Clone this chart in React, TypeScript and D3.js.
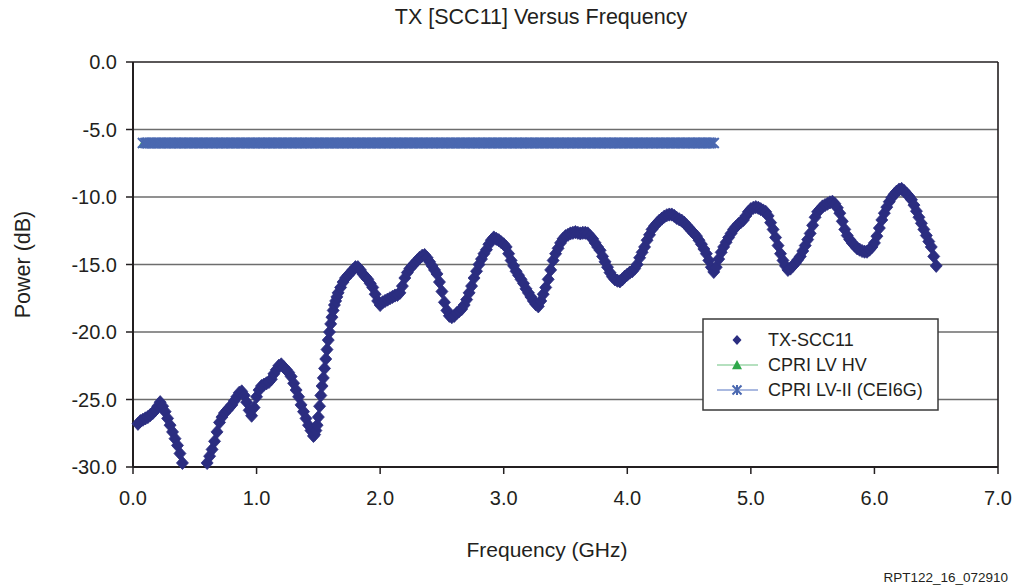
import React from "react";
import * as d3 from "d3";

const chartTitle = "TX [SCC11] Versus Frequency";
const xAxisTitle = "Frequency (GHz)";
const yAxisTitle = "Power (dB)";
const footnote = "RPT122_16_072910";
const xTickValues = [0, 1, 2, 3, 4, 5, 6, 7];
const yTickValues = [0, -5, -10, -15, -20, -25, -30];

// TX-SCC11 measured values (dB), sampled every 0.02 GHz starting at 0.04 GHz
const txStartGHz = 0.04;
const txStepGHz = 0.02;
const txScc11 = [
  -26.8, -26.6, -26.5, -26.4, -26.3, -26.15, -26.0, -25.8, -25.5, -25.2,
  -25.5, -25.9, -26.4, -26.9, -27.4, -27.9, -28.4, -29.0, -29.7, -30.3,
  -30.9, -31.4, -31.8, -32.0, -31.8, -31.3, -30.8, -30.3, -29.7, -29.2,
  -28.7, -28.1, -27.4, -26.7, -26.3, -26.0, -25.8, -25.6, -25.4, -25.1,
  -24.8, -24.5, -24.4, -24.7, -25.2, -25.8, -26.2, -25.6, -24.8, -24.3,
  -24.0, -23.9, -23.8, -23.7, -23.5, -23.1, -22.8, -22.5, -22.4, -22.6,
  -22.8, -23.0, -23.3, -23.8, -24.3, -24.8, -25.4, -25.9, -26.4, -26.9,
  -27.3, -27.7, -27.3, -26.3, -24.7, -23.4, -22.0, -20.6, -19.4, -18.4,
  -17.7, -17.1, -16.7, -16.3, -16.0, -15.8, -15.6, -15.4, -15.2, -15.2,
  -15.4, -15.7, -15.9, -16.1, -16.4, -16.7, -17.2, -17.7, -18.0, -17.8,
  -17.7, -17.6, -17.5, -17.4, -17.3, -17.25, -17.1, -16.6, -16.0, -15.6,
  -15.3, -15.1, -14.9, -14.7, -14.5, -14.35, -14.3, -14.5, -14.8, -15.1,
  -15.4, -15.7, -16.3, -17.0, -17.8, -18.4, -18.8, -18.9, -18.8, -18.6,
  -18.45, -18.3, -18.0, -17.6, -17.1, -16.6, -16.0, -15.5, -15.0, -14.6,
  -14.2, -13.9, -13.5, -13.2, -13.0, -13.1, -13.2, -13.35, -13.5, -13.7,
  -14.2, -14.7, -15.1, -15.5, -15.8, -16.1, -16.4, -16.8, -17.1, -17.4,
  -17.7, -17.95, -18.1, -17.7, -17.2, -16.7, -16.1, -15.4, -14.7, -14.2,
  -13.8, -13.4, -13.1, -12.9, -12.8, -12.7, -12.65, -12.6, -12.65, -12.7,
  -12.65, -12.65, -12.7, -12.9, -13.1, -13.4, -13.7, -13.95, -14.4, -14.8,
  -15.2, -15.6, -15.9, -16.1, -16.2, -16.25, -16.1, -15.9, -15.75, -15.6,
  -15.5, -15.3, -15.0, -14.5, -14.1, -13.7, -13.2, -12.8, -12.4, -12.15,
  -11.95, -11.75, -11.6, -11.45, -11.35, -11.3, -11.3, -11.4, -11.55, -11.65,
  -11.75, -11.9, -12.1, -12.3, -12.5, -12.7, -12.9, -13.2, -13.5, -13.85,
  -14.2, -14.7, -15.2, -15.55, -15.2, -14.6, -14.1, -13.7, -13.35, -13.0,
  -12.7, -12.4, -12.2, -12.0, -11.85, -11.7, -11.4, -11.1, -10.9, -10.8,
  -10.75, -10.8, -10.9, -11.0, -11.1, -11.4, -11.9, -12.4, -13.0, -13.6,
  -14.2, -14.7, -15.1, -15.4, -15.3, -15.1, -14.9, -14.65, -14.4, -14.0,
  -13.6, -13.15, -12.7, -12.1, -11.5, -11.1, -10.9, -10.7, -10.6, -10.5,
  -10.4, -10.35, -10.5, -10.8, -11.2, -11.8, -12.4, -12.85, -13.15, -13.4,
  -13.6, -13.8, -13.9, -14.0, -14.05, -14.05, -13.9, -13.7, -13.4, -12.9,
  -12.3, -11.7, -11.2, -10.75, -10.35, -10.05, -9.8, -9.6, -9.45, -9.4,
  -9.55, -9.75, -9.95, -10.2, -10.6, -11.05, -11.5, -11.95, -12.4, -12.85,
  -13.3, -13.7, -14.4, -15.1,
];

// Extra TX-SCC11 readings on the steep rise (odd hundredths of a GHz)
const txSteepFreq = [1.47, 1.49, 1.51, 1.53, 1.55, 1.57, 1.59, 1.61, 1.63, 1.65];
const txSteepValue = [-27.6, -26.9, -25.5, -24.0, -22.7, -21.3, -20.0, -18.9, -18.0, -17.4];

// Limit lines (dB) and their frequency spans (GHz)
const limitNames = ["CPRI LV HV", "CPRI LV-II (CEI6G)"];
const limitFromGHz = [0.08, 0.08];
const limitToGHz = [3.0, 4.7];
const limitLevel = [-6, -6];

const FONT = "'Liberation Sans', Arial, Helvetica, sans-serif";
const NAVY = "#2b2d80";
const GREEN = "#2ea84a";
const BLUE = "#4a68b0";
const LIGHTBLUE = "#8ea2d6";
const INK = "#231f20";

export default function App() {
  const W = 1030;
  const H = 588;
  const plot = { left: 133, right: 998, top: 62, bottom: 467 };
  const x = d3.scaleLinear().domain([0, 7]).range([plot.left, plot.right]);
  const y = d3.scaleLinear().domain([-30, 0]).range([plot.bottom, plot.top]);

  const tx = txScc11.map((v, i) => ({ f: +(txStartGHz + i * txStepGHz).toFixed(2), v }));
  const txAll = tx
    .concat(txSteepFreq.map((f, i) => ({ f, v: txSteepValue[i] })))
    .sort((a, b) => a.f - b.f);
  const txVisible = txAll.filter((d) => d.v >= -30 && d.v <= 0);

  const diamond = (cx: number, cy: number, r: number) =>
    `M${cx},${cy - r - 0.6}L${cx + r},${cy}L${cx},${cy + r + 0.6}L${cx - r},${cy}Z`;
  const triangle = (cx: number, cy: number, r: number) =>
    `M${cx},${cy - r}L${cx + r},${cy + r * 0.85}L${cx - r},${cy + r * 0.85}Z`;
  const star = (cx: number, cy: number, r: number) =>
    `M${cx - r},${cy - r}L${cx + r},${cy + r}M${cx - r},${cy + r}L${cx + r},${cy - r}M${cx},${cy - r * 1.1}L${cx},${cy + r * 1.1}`;

  const limitPoints = limitNames.map((_, k) =>
    tx
      .map((d) => d.f)
      .filter((f) => f >= limitFromGHz[k] - 1e-9 && f <= limitToGHz[k] + 1e-9)
      .map((f) => ({ f, v: limitLevel[k] }))
  );

  const lineGen = d3
    .line<{ f: number; v: number }>()
    .x((d) => x(d.f))
    .y((d) => y(d.v));

  const legend = { x: 703, y: 319, w: 235, h: 91 };
  const legendRows = [340, 365, 390];

  return (
    <div style={{ position: "absolute", left: 0, top: 0 }}>
      <svg width={W} height={H} style={{ display: "block", background: "#fff" }} fontFamily={FONT}>
        <text x={541} y={24} textAnchor="middle" fontSize={21.5} fill={INK}>
          {chartTitle}
        </text>

        {yTickValues
          .filter((t) => t !== 0 && t !== -30)
          .map((t) => (
            <line key={"g" + t} x1={plot.left} x2={plot.right} y1={y(t)} y2={y(t)} stroke="#6d6d6d" strokeWidth={1.6} />
          ))}

        <line x1={plot.left} x2={plot.right} y1={plot.top} y2={plot.top} stroke={INK} strokeWidth={1.6} />
        <line x1={plot.right} x2={plot.right} y1={plot.top} y2={plot.bottom} stroke={INK} strokeWidth={1.6} />
        <line x1={plot.left} x2={plot.right} y1={plot.bottom} y2={plot.bottom} stroke={INK} strokeWidth={2} />
        <line x1={plot.left} x2={plot.left} y1={plot.top} y2={plot.bottom} stroke={INK} strokeWidth={2} />

        {yTickValues.map((t) => (
          <g key={"yt" + t}>
            <line x1={plot.left - 7} x2={plot.left} y1={y(t)} y2={y(t)} stroke={INK} strokeWidth={1.5} />
            <text x={117} y={y(t)} dy="0.36em" textAnchor="end" fontSize={20} fill={INK}>
              {t.toFixed(1)}
            </text>
          </g>
        ))}

        {xTickValues.map((t) => (
          <g key={"xt" + t}>
            <line x1={x(t)} x2={x(t)} y1={plot.bottom} y2={plot.bottom + 7} stroke={INK} strokeWidth={1.5} />
            <text x={x(t)} y={505} textAnchor="middle" fontSize={20} fill={INK}>
              {t.toFixed(1)}
            </text>
          </g>
        ))}

        <text x={547} y={557} textAnchor="middle" fontSize={21} fill={INK}>
          {xAxisTitle}
        </text>
        <text transform={`translate(30,${(plot.top + plot.bottom) / 2}) rotate(-90)`} textAnchor="middle" fontSize={21.5} fill={INK}>
          {yAxisTitle}
        </text>

        <g fill={NAVY} stroke={NAVY} strokeWidth={0.8}>
          {txVisible.map((d, i) => (
            <path key={"tx" + i} d={diamond(x(d.f), y(d.v), 6)} />
          ))}
        </g>

        <path d={lineGen(limitPoints[0]) || ""} fill="none" stroke={GREEN} strokeWidth={1.5} />
        <g fill={GREEN}>
          {limitPoints[0].map((d, i) => (
            <path key={"lv" + i} d={triangle(x(d.f), y(d.v) + 0.8, 5)} />
          ))}
        </g>

        <path d={lineGen(limitPoints[1]) || ""} fill="none" stroke={LIGHTBLUE} strokeWidth={1.5} />
        <g stroke={BLUE} strokeWidth={2} fill="none">
          {limitPoints[1].map((d, i) => (
            <path key={"l2" + i} d={star(x(d.f), y(d.v), 5)} />
          ))}
        </g>

        <rect x={legend.x} y={legend.y} width={legend.w} height={legend.h} fill="#fff" stroke="#3a3a3a" strokeWidth={1.5} />
        <path d={diamond(737, legendRows[0], 4.5)} fill={NAVY} />
        <text x={768} y={legendRows[0]} dy="0.36em" fontSize={18} fill={INK}>TX-SCC11</text>

        <line x1={717} x2={758} y1={legendRows[1]} y2={legendRows[1]} stroke={GREEN} strokeWidth={1.2} opacity={0.7} />
        <path d={triangle(737, legendRows[1], 5)} fill={GREEN} />
        <text x={768} y={legendRows[1]} dy="0.36em" fontSize={18} fill={INK}>{limitNames[0]}</text>

        <line x1={717} x2={758} y1={legendRows[2]} y2={legendRows[2]} stroke={LIGHTBLUE} strokeWidth={1.5} />
        <path d={star(737, legendRows[2], 4.5)} stroke={BLUE} strokeWidth={2} fill="none" />
        <text x={768} y={legendRows[2]} dy="0.36em" fontSize={18} fill={INK}>{limitNames[1]}</text>

        <text x={1008} y={582} textAnchor="end" fontSize={13.5} fill={INK}>
          {footnote}
        </text>
      </svg>
    </div>
  );
}
